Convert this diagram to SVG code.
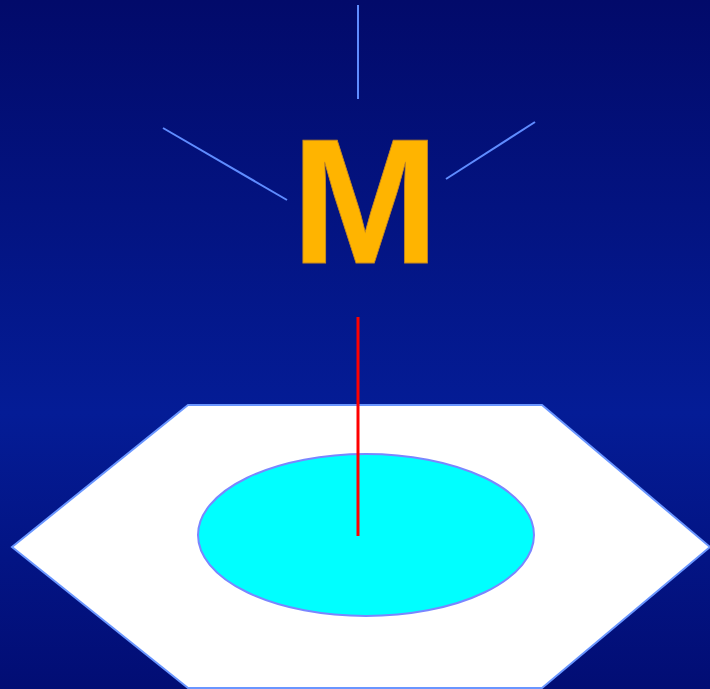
<svg xmlns="http://www.w3.org/2000/svg" width="710" height="689" viewBox="0 0 710 689">
  <defs>
    <linearGradient id="bg" x1="0" y1="0" x2="0" y2="1">
      <stop offset="0" stop-color="#020a6a"/>
      <stop offset="0.6" stop-color="#041c96"/>
      <stop offset="1" stop-color="#020d74"/>
    </linearGradient>
  </defs>
  <style>
    .ray { stroke: #5f8cff; stroke-width: 2; fill: none; }
  </style>
  <rect x="0" y="0" width="710" height="689" fill="url(#bg)"/>
  <g id="ring">
    <polygon points="188,405 542,405 710,547 542,688 188,688 12,547" fill="#ffffff" stroke="#6a96ff" stroke-width="2"/>
  </g>
  <g id="spot">
    <ellipse cx="366" cy="535" rx="168" ry="81" fill="#00ffff" stroke="#7a86ff" stroke-width="2"/>
  </g>
  <g id="metal">
    <text x="291" y="263" font-family="'Liberation Sans', Arial, sans-serif" font-weight="bold" font-size="178" fill="#ffb400" stroke="#c88a20" stroke-width="0.8">M</text>
  </g>
  <g id="connectors">
    <line class="ray" x1="358" y1="5" x2="358" y2="99"/>
    <line class="ray" x1="163" y1="128" x2="287" y2="200"/>
    <line class="ray" x1="446" y1="179" x2="535" y2="122"/>
    <line x1="358" y1="317" x2="358" y2="536" stroke="#ff0000" stroke-width="3"/>
  </g>
</svg>
